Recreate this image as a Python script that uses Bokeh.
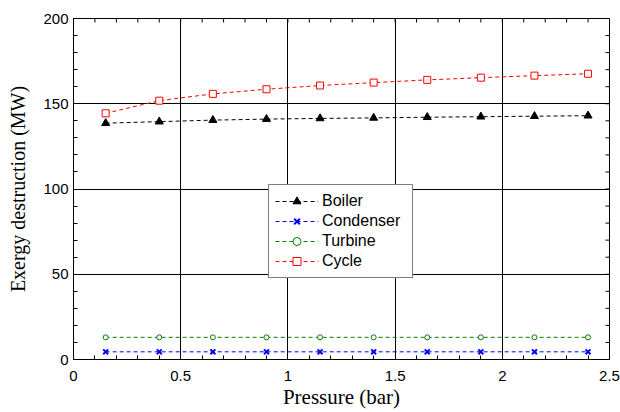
import math
from bokeh.plotting import figure
from bokeh.models import Range1d, FixedTicker, Legend, LegendItem
from bokeh.embed import file_html
from bokeh.resources import INLINE

# Data
pressure = [0.15, 0.40, 0.65, 0.90, 1.15, 1.40, 1.65, 1.90, 2.15, 2.40]
boiler = [138.6, 139.5, 140.4, 141.0, 141.4, 141.7, 142.1, 142.4, 142.7, 143.0]
condenser = [4.5, 4.5, 4.5, 4.5, 4.5, 4.5, 4.5, 4.5, 4.5, 4.5]
turbine = [13.0, 13.0, 13.0, 13.0, 13.0, 13.0, 13.0, 13.0, 13.0, 13.0]
cycle = [144.4, 151.8, 155.8, 158.5, 160.7, 162.4, 164.0, 165.3, 166.5, 167.6]
x_ticks = [0, 0.5, 1, 1.5, 2, 2.5]
x_tick_labels = ["0", "0.5", "1", "1.5", "2", "2.5"]
x_minor = [0.1, 0.2, 0.3, 0.4, 0.6, 0.7, 0.8, 0.9, 1.1, 1.2, 1.3, 1.4,
           1.6, 1.7, 1.8, 1.9, 2.1, 2.2, 2.3, 2.4]
y_ticks = [0, 50, 100, 150, 200]
y_minor = [10, 20, 30, 40, 60, 70, 80, 90, 110, 120, 130, 140, 160, 170, 180, 190]
x_label = "Pressure (bar)"
y_label = "Exergy destruction (MW)"
series_names = ["Boiler", "Condenser", "Turbine", "Cycle"]

TICK_FONT = "Liberation Sans"
LABEL_FONT = "Liberation Serif"
X_MIN, X_MAX, Y_MIN, Y_MAX = 0, 2.5, 0, 200

p = figure(width=620, height=412, output_backend="svg", toolbar_location=None,
           x_range=Range1d(X_MIN, X_MAX), y_range=Range1d(Y_MIN, Y_MAX),
           min_border_left=73, min_border_right=11, min_border_top=18, min_border_bottom=53)
p.outline_line_color = "black"
p.outline_line_width = 1
p.background_fill_color = "white"
p.border_fill_color = "white"

for ax in p.xaxis + p.yaxis:
    ax.axis_line_color = "black"
    ax.major_tick_in = 4
    ax.major_tick_out = 0
    ax.minor_tick_in = 4
    ax.minor_tick_out = 0
    ax.major_tick_line_color = "black"
    ax.minor_tick_line_color = "black"
    ax.major_label_text_font = TICK_FONT
    ax.major_label_text_font_size = "15px"
    ax.major_label_text_color = "black"
    ax.axis_label_text_font = LABEL_FONT
    ax.axis_label_text_font_style = "normal"
    ax.axis_label_text_color = "black"

p.xaxis.ticker = FixedTicker(ticks=x_ticks, minor_ticks=x_minor)
p.yaxis.ticker = FixedTicker(ticks=y_ticks, minor_ticks=y_minor)
p.xaxis.major_label_overrides = {t: l for t, l in zip(x_ticks, x_tick_labels)}
p.xaxis.axis_label = x_label
p.yaxis.axis_label = y_label
p.xaxis.axis_label_text_font_size = "21px"
p.yaxis.axis_label_text_font_size = "20px"
p.xaxis.major_label_standoff = 11
p.yaxis.major_label_standoff = 5
p.xaxis.axis_label_standoff = 1
p.yaxis.axis_label_standoff = 11

p.xgrid.ticker = FixedTicker(ticks=x_ticks)
p.ygrid.ticker = FixedTicker(ticks=y_ticks)
for g in (p.xgrid[0], p.ygrid[0]):
    g.grid_line_color = "black"
    g.grid_line_width = 1
    g.grid_line_alpha = 1

# mirrored inside ticks on the top and right frame edges (clipped to frame)
p.scatter(x_ticks + x_minor, [Y_MAX] * (len(x_ticks) + len(x_minor)), marker="dash",
          size=8, angle=math.pi / 2, line_color="black", line_width=1)
p.scatter([X_MAX] * (len(y_ticks) + len(y_minor)), y_ticks + y_minor, marker="dash",
          size=8, line_color="black", line_width=1)

DASH = "4 3"
items = []

l1 = p.line(pressure, boiler, line_color="black", line_dash=DASH, line_width=1)
m1 = p.scatter(pressure, boiler, marker="triangle", size=8, fill_color="black", line_color="black")
items.append(LegendItem(label=series_names[0], renderers=[l1, m1]))

l2 = p.line(pressure, condenser, line_color="#0000ff", line_dash=DASH, line_width=1)
m2 = p.scatter(pressure, condenser, marker="x", size=7, line_color="#0000ff", line_width=2)
items.append(LegendItem(label=series_names[1], renderers=[l2, m2]))

l3 = p.line(pressure, turbine, line_color="#008000", line_dash=DASH, line_width=1)
m3 = p.scatter(pressure, turbine, marker="circle", size=5, fill_color="white", line_color="#008000", line_width=1)
items.append(LegendItem(label=series_names[2], renderers=[l3, m3]))

l4 = p.line(pressure, cycle, line_color="#ff0000", line_dash=DASH, line_width=1)
m4 = p.scatter(pressure, cycle, marker="square", size=7, fill_color="white", line_color="#ff0000", line_width=1)
items.append(LegendItem(label=series_names[3], renderers=[l4, m4]))

legend = Legend(items=items, location=(195, 81))
legend.border_line_color = "black"
legend.border_line_width = 1.5
legend.background_fill_color = "white"
legend.background_fill_alpha = 1
legend.label_text_font = TICK_FONT
legend.label_text_font_size = "16px"
legend.label_text_color = "black"
legend.glyph_width = 43
legend.glyph_height = 20
legend.label_height = 20
legend.label_width = 84
legend.label_standoff = 4
legend.spacing = 0
legend.padding = 6
legend.margin = 0
p.add_layout(legend, "center")

open("out.html", "w").write(file_html(p, INLINE))
